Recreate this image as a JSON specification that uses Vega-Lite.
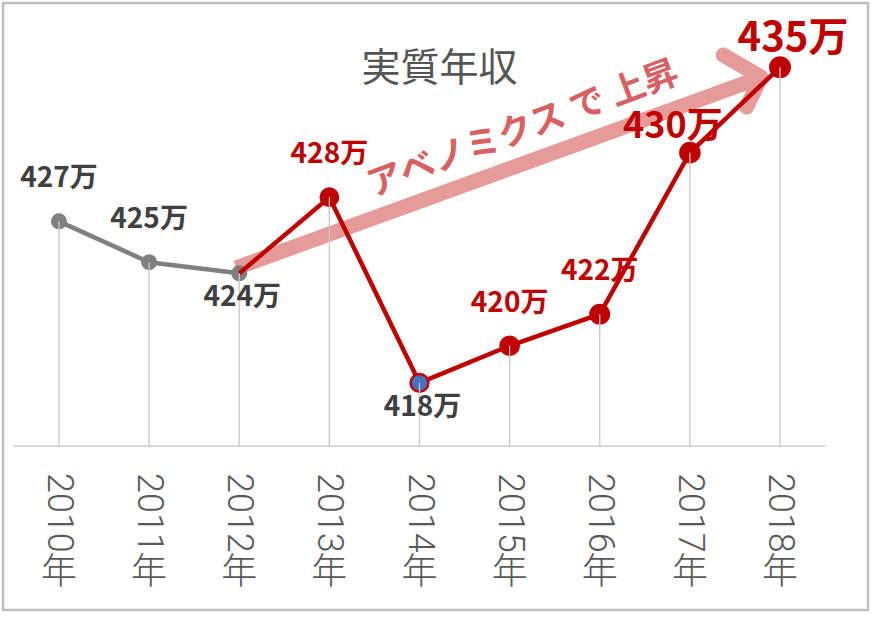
{
  "$schema": "https://vega.github.io/schema/vega-lite/v6.json",
  "width": 865,
  "height": 607,
  "autosize": {"type": "none"},
  "padding": {"left": 3, "top": 3, "right": 10, "bottom": 15},
  "background": "white",
  "config": {
    "view": {"stroke": "#bfbfbf", "strokeWidth": 2.5}
  },
  "title": {
    "text": "実質年収",
    "font": "Noto Sans CJK JP",
    "fontSize": 39,
    "fontWeight": "normal",
    "color": "#555555",
    "anchor": "middle",
    "baseline": "middle",
    "offset": -105,
    "dx": 4
  },
  "data": {
    "values": [
      {"yr": 2010, "v": 426.7, "label": "427万"},
      {"yr": 2011, "v": 424.5, "label": "425万"},
      {"yr": 2012, "v": 423.9, "label": "424万"},
      {"yr": 2013, "v": 428.0, "label": "428万"},
      {"yr": 2014, "v": 418.0, "label": "418万"},
      {"yr": 2015, "v": 420.0, "label": "420万"},
      {"yr": 2016, "v": 421.7, "label": "422万"},
      {"yr": 2017, "v": 430.4, "label": "430万"},
      {"yr": 2018, "v": 435.0, "label": "435万"}
    ]
  },
  "layer": [
    {
      "mark": {"type": "rule", "color": "#d9d9d9", "strokeWidth": 1.5},
      "encoding": {
        "x": {"datum": 2009.5, "type": "quantitative", "scale": {"domain": [2009.379, 2018.976], "nice": false, "zero": false}, "axis": null},
        "x2": {"datum": 2018.5},
        "y": {"datum": 414.6, "type": "quantitative", "scale": {"domain": [405.77, 438.46], "nice": false, "zero": false}, "axis": null}
      }
    },
    {
      "data": {
        "values": [
          {"yr": 2011.964, "v": 424.19, "o": 1},
          {"yr": 2017.70, "v": 434.30, "o": 2}
        ]
      },
      "mark": {"type": "line", "color": "#e79a9a", "strokeWidth": 15, "strokeCap": "butt"},
      "encoding": {
        "x": {"field": "yr", "type": "quantitative", "axis": null},
        "y": {"field": "v", "type": "quantitative", "axis": null},
        "order": {"field": "o", "type": "quantitative"}
      }
    },
    {
      "data": {
        "values": [
          {"yr": 2017.37, "v": 435.66, "o": 1},
          {"yr": 2017.79, "v": 434.47, "o": 2},
          {"yr": 2017.63, "v": 432.86, "o": 3}
        ]
      },
      "mark": {"type": "line", "color": "#e79a9a", "strokeWidth": 15, "strokeCap": "round", "strokeJoin": "round"},
      "encoding": {
        "x": {"field": "yr", "type": "quantitative", "axis": null},
        "y": {"field": "v", "type": "quantitative", "axis": null},
        "order": {"field": "o", "type": "quantitative"}
      }
    },
    {
      "transform": [{"filter": "datum.yr <= 2012"}],
      "mark": {"type": "line", "color": "#808080", "strokeWidth": 4.5},
      "encoding": {
        "x": {"field": "yr", "type": "quantitative", "axis": null},
        "y": {"field": "v", "type": "quantitative", "axis": null}
      }
    },
    {
      "transform": [{"filter": "datum.yr <= 2012"}],
      "mark": {"type": "circle", "color": "#808080", "opacity": 1, "size": 256},
      "encoding": {
        "x": {"field": "yr", "type": "quantitative", "axis": null},
        "y": {"field": "v", "type": "quantitative", "axis": null}
      }
    },
    {
      "transform": [{"filter": "datum.yr >= 2012"}],
      "mark": {"type": "line", "color": "#c00000", "strokeWidth": 4.5},
      "encoding": {
        "x": {"field": "yr", "type": "quantitative", "axis": null},
        "y": {"field": "v", "type": "quantitative", "axis": null}
      }
    },
    {
      "transform": [{"filter": "datum.yr >= 2013"}],
      "mark": {"type": "point", "shape": "circle", "filled": true, "opacity": 1, "stroke": "#c00000", "strokeWidth": 2.5},
      "encoding": {
        "x": {"field": "yr", "type": "quantitative", "axis": null},
        "y": {"field": "v", "type": "quantitative", "axis": null},
        "fill": {"condition": {"test": "datum.yr == 2014", "value": "#4472c4"}, "value": "#c00000"},
        "size": {
          "field": "yr",
          "type": "ordinal",
          "scale": {"domain": [2013, 2014, 2015, 2016, 2017, 2018], "range": [300, 380, 420, 460, 600, 640]},
          "legend": null
        }
      }
    },
    {
      "mark": {"type": "rule", "color": "#c8c8c8", "strokeWidth": 1.3},
      "encoding": {
        "x": {"field": "yr", "type": "quantitative", "axis": null},
        "y": {"field": "v", "type": "quantitative", "axis": null},
        "y2": {"datum": 414.6}
      }
    },
    {
      "transform": [{"filter": "datum.yr == 2010 || datum.yr == 2011 || datum.yr == 2013 || datum.yr == 2015 || datum.yr == 2016"}],
      "mark": {"type": "text", "font": "Noto Sans CJK JP", "fontWeight": "bold", "fontSize": 28, "dy": -42, "align": "center", "baseline": "middle"},
      "encoding": {
        "x": {"field": "yr", "type": "quantitative", "axis": null},
        "y": {"field": "v", "type": "quantitative", "axis": null},
        "text": {"field": "label"},
        "color": {"condition": {"test": "datum.yr <= 2012", "value": "#404040"}, "value": "#c00000"}
      }
    },
    {
      "transform": [{"filter": "datum.yr == 2012 || datum.yr == 2014"}],
      "mark": {"type": "text", "font": "Noto Sans CJK JP", "fontWeight": "bold", "fontSize": 28, "dy": 25, "dx": 3, "align": "center", "baseline": "middle", "color": "#404040"},
      "encoding": {
        "x": {"field": "yr", "type": "quantitative", "axis": null},
        "y": {"field": "v", "type": "quantitative", "axis": null},
        "text": {"field": "label"}
      }
    },
    {
      "transform": [{"filter": "datum.yr == 2017"}],
      "mark": {"type": "text", "font": "Noto Sans CJK JP", "fontWeight": "bold", "fontSize": 36, "dy": -26, "dx": -17, "align": "center", "baseline": "middle", "color": "#c00000"},
      "encoding": {
        "x": {"field": "yr", "type": "quantitative", "axis": null},
        "y": {"field": "v", "type": "quantitative", "axis": null},
        "text": {"field": "label"}
      }
    },
    {
      "transform": [{"filter": "datum.yr == 2018"}],
      "mark": {"type": "text", "font": "Noto Sans CJK JP", "fontWeight": "bold", "fontSize": 40, "dy": -28, "dx": 13, "align": "center", "baseline": "middle", "color": "#c00000"},
      "encoding": {
        "x": {"field": "yr", "type": "quantitative", "axis": null},
        "y": {"field": "v", "type": "quantitative", "axis": null},
        "text": {"field": "label"}
      }
    },
    {
      "mark": {"type": "text", "font": "Roboto", "fontWeight": 300, "fontSize": 36, "angle": 90, "align": "left", "baseline": "middle", "color": "#595959"},
      "encoding": {
        "x": {"field": "yr", "type": "quantitative", "axis": null},
        "y": {"datum": 413.15, "type": "quantitative", "axis": null},
        "text": {"field": "yr", "type": "quantitative", "format": "d"}
      }
    },
    {
      "mark": {"type": "text", "text": "年", "font": "Noto Sans CJK JP", "fontWeight": 300, "fontSize": 36, "align": "center", "baseline": "middle", "color": "#595959"},
      "encoding": {
        "x": {"field": "yr", "type": "quantitative", "axis": null},
        "y": {"datum": 407.76, "type": "quantitative", "axis": null}
      }
    },
    {
      "transform": [{"filter": "datum.yr == 2015"}],
      "mark": {"type": "text", "text": "アベノミクス で 上昇", "font": "Noto Sans CJK JP", "fontWeight": "bold", "fontSize": 35, "angle": -20.5, "align": "center", "baseline": "middle", "color": "#d96060"},
      "encoding": {
        "x": {"datum": 2015.15, "type": "quantitative", "axis": null},
        "y": {"datum": 431.67, "type": "quantitative", "axis": null}
      }
    }
  ]
}
